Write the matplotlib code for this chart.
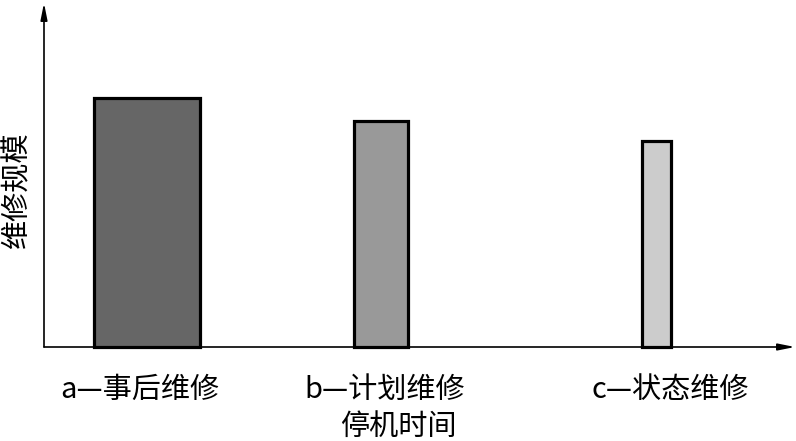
import matplotlib.pyplot as plt

plt.rcParams['font.family'] = ['Noto Sans CJK SC', 'DejaVu Sans']

# 三种维修方式
categories = ['a—事后维修', 'b—计划维修', 'c—状态维修']
positions = [1.03, 3.37, 6.125]
widths = [1.06, 0.54, 0.29]
heights = [2.49, 2.26, 2.06]
colors = ['#666666', '#999999', '#cccccc']
label_pos = [0.96, 3.41, 6.26]

fig = plt.figure(figsize=(7.96, 4.41), dpi=100)
ax = fig.add_axes([44 / 796, 94 / 441, 751 / 796, 344 / 441])

ax.bar(positions, heights, width=widths, color=colors, edgecolor='black',
       linewidth=2.3, clip_on=False, zorder=3)

ax.set_xlim(0, 7.51)
ax.set_ylim(0, 3.44)

# 坐标轴用箭头画
for s in ax.spines.values():
    s.set_visible(False)
arrow = dict(arrowstyle='-|>,head_length=1.0,head_width=0.2', color='black',
             lw=1.2, shrinkA=0, shrinkB=0)
ax.annotate('', xy=(1, 0), xytext=(0, 0), xycoords='axes fraction',
            arrowprops=arrow, annotation_clip=False)
ax.annotate('', xy=(0, 1), xytext=(0, 0), xycoords='axes fraction',
            arrowprops=arrow, annotation_clip=False)

ax.set_xticks(label_pos)
ax.set_xticklabels(categories, fontsize=21)
ax.tick_params(axis='x', length=0, pad=20)
ax.set_yticks([])

ax.set_xlabel('停机时间', fontsize=21)
ax.xaxis.label.set_va('center')
ax.xaxis.set_label_coords(354 / 751, (347 - 427) / 344)
ax.set_ylabel('维修规模', fontsize=21)
ax.yaxis.set_label_coords(-12 / 751, (347 - 190) / 344)

fig.savefig('out.png', dpi=100)
